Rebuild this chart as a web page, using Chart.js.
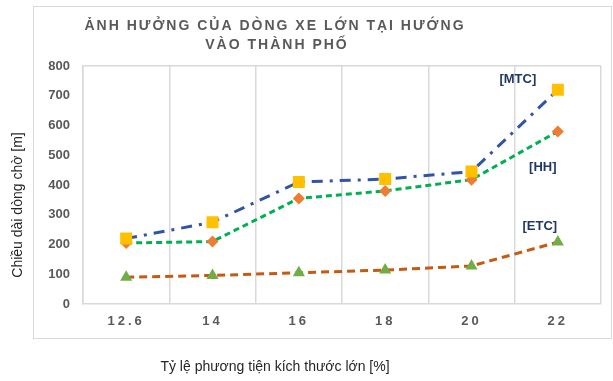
<!DOCTYPE html>
<html>
<head>
<meta charset="utf-8">
<script src="https://cdn.jsdelivr.net/npm/chart.js@4/dist/chart.umd.min.js"></script>
<style>
  html, body { margin: 0; padding: 0; background: #fff; }
  #wrap { width: 613px; height: 381px; }
</style>
</head>
<body>
<div id="wrap"><canvas id="grafico"></canvas></div>
<script>
// Datos
const categorias = ["12.6", "14", "16", "18", "20", "22"];
const serieMTC = [220, 275, 410, 420, 445, 720];
const serieHH = [205, 210, 355, 380, 418, 580];
const serieETC = [90, 96, 105, 114, 128, 208];
const ticksY = [0, 100, 200, 300, 400, 500, 600, 700, 800];

const titulo = ["ẢNH HƯỞNG CỦA DÒNG XE LỚN TẠI HƯỚNG", "VÀO THÀNH PHỐ"];
const tituloY = "Chiều dài dòng chờ [m]";
const tituloX = "Tỷ lệ phương tiện kích thước lớn [%]";
const etiquetas = ["[MTC]", "[HH]", "[ETC]"];

const GRIS = "#d9d9d9";
const TEXTO = "#595959";

/**
 * Plugin: marco, títulos y etiquetas de series
 */
const decoracion = {
    id: "decoracion",
    beforeDraw(chart) {
        const ctx = chart.ctx;
        ctx.save();
        ctx.strokeStyle = GRIS;
        ctx.lineWidth = 1;
        ctx.strokeRect(33.5, 6.5, 578, 332);
        ctx.restore();
    },
    afterDatasetsDraw(chart) {
        // espaciado de letras para las etiquetas del eje X (z: 1)
        chart.ctx.letterSpacing = "3px";
    },
    afterDraw(chart) {
        const ctx = chart.ctx;
        ctx.letterSpacing = "0px";

        // Título
        ctx.save();
        ctx.fillStyle = TEXTO;
        ctx.font = "bold 14px 'Liberation Sans', Arial, sans-serif";
        ctx.letterSpacing = "2px";
        ctx.textAlign = "center";
        ctx.textBaseline = "middle";
        ctx.fillText(titulo[0], 275, 26);
        ctx.fillText(titulo[1], 277, 45);
        ctx.restore();

        // Títulos de ejes
        ctx.save();
        ctx.fillStyle = "#262626";
        ctx.font = "14px 'Liberation Sans', Arial, sans-serif";
        ctx.textAlign = "center";
        ctx.textBaseline = "middle";
        ctx.fillText(tituloX, 275, 367);
        ctx.translate(18, 205);
        ctx.rotate(-Math.PI / 2);
        ctx.fillText(tituloY, 0, 0);
        ctx.restore();

        // Etiquetas de las series junto al último punto
        const desplaz = [[-40, -10], [-15, 36], [-18, -16]];
        ctx.save();
        ctx.fillStyle = "#203864";
        ctx.font = "bold 13px 'Liberation Sans', Arial, sans-serif";
        ctx.textAlign = "center";
        ctx.textBaseline = "middle";
        chart.data.datasets.forEach((ds, i) => {
            const meta = chart.getDatasetMeta(i);
            const p = meta.data[meta.data.length - 1];
            ctx.fillText(etiquetas[i], p.x + desplaz[i][0], p.y + desplaz[i][1]);
        });
        ctx.restore();
    },
};

new Chart(document.getElementById("grafico"), {
    type: "line",
    data: {
        labels: categorias,
        datasets: [
            {
                label: "MTC",
                data: serieMTC,
                borderColor: "#2f55a4",
                borderWidth: 3,
                borderDash: [11, 7, 3, 7],
                pointStyle: "rect",
                pointRadius: 8.5,
                pointBackgroundColor: "#ffc000",
                pointBorderColor: "#ffc000",
                pointBorderWidth: 0,
                tension: 0,
            },
            {
                label: "HH",
                data: serieHH,
                borderColor: "#00b050",
                borderWidth: 3,
                borderDash: [6, 4],
                pointStyle: "rectRot",
                pointRadius: 6,
                pointBackgroundColor: "#ed7d31",
                pointBorderColor: "#ed7d31",
                pointBorderWidth: 0,
                tension: 0,
            },
            {
                label: "ETC",
                data: serieETC,
                borderColor: "#c55a11",
                borderWidth: 3,
                borderDash: [8, 5],
                pointStyle: "triangle",
                pointRadius: 7,
                pointBackgroundColor: "#70ad47",
                pointBorderColor: "#70ad47",
                pointBorderWidth: 0,
                tension: 0,
            },
        ],
    },
    options: {
        responsive: true,
        maintainAspectRatio: false,
        animation: false,
        layout: { padding: { top: 66, right: 12, left: 0, bottom: 0 } },
        plugins: {
            legend: { display: false },
            title: { display: false },
            tooltip: { enabled: false },
        },
        scales: {
            x: {
                offset: true,
                grid: { offset: true, color: GRIS, lineWidth: 1.5, drawTicks: false },
                border: { color: GRIS, width: 1.5 },
                ticks: {
                    color: TEXTO,
                    font: { family: "'Liberation Sans', Arial", size: 13, weight: "bold" },
                    padding: 10,
                    z: 1,
                },
                afterFit(scale) { scale.height = 77; },
            },
            y: {
                min: 0,
                max: 800,
                afterBuildTicks(scale) {
                    scale.ticks = ticksY.map((v) => ({ value: v }));
                },
                grid: {
                    drawTicks: false,
                    color: (c) => (c.tick && c.tick.value === 800 ? GRIS : "rgba(0,0,0,0)"),
                    lineWidth: 1.5,
                },
                border: { color: GRIS, width: 1.5 },
                ticks: {
                    color: TEXTO,
                    font: { family: "'Liberation Sans', Arial", size: 13, weight: "bold" },
                    padding: 13,
                },
                afterFit(scale) { scale.width = 83; },
            },
        },
    },
    plugins: [decoracion],
});
</script>
</body>
</html>
